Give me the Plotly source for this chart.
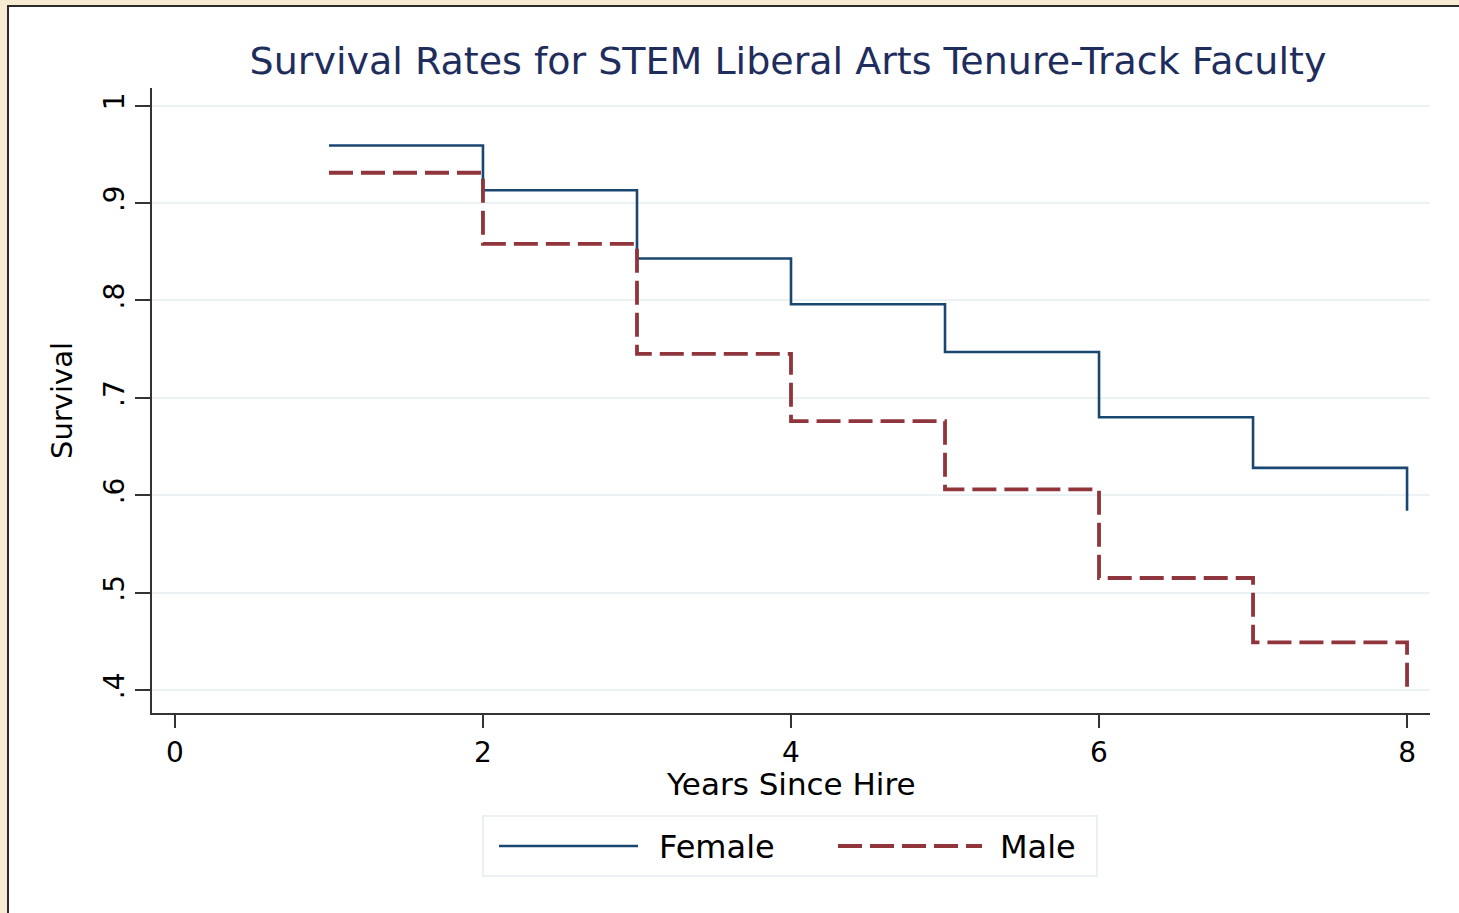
import plotly.graph_objects as go

# Kaplan-Meier style survival estimates by year since hire
years = [1, 2, 3, 4, 5, 6, 7, 8]
female_surv = [0.959, 0.913, 0.843, 0.796, 0.747, 0.680, 0.628, 0.584]
male_surv = [0.931, 0.858, 0.745, 0.676, 0.606, 0.515, 0.449, 0.403]
series_names = ["Female", "Male"]

x_ticks = [0, 2, 4, 6, 8]
y_ticks = [0.4, 0.5, 0.6, 0.7, 0.8, 0.9, 1.0]
y_ticktext = [".4", ".5", ".6", ".7", ".8", ".9", "1"]

NAVY = "#1a476f"
MAROON = "#90353b"
FONT = "DejaVu Sans"

W, H = 1459, 913
L, R, T, B = 152, 29, 88, 200
PW, PH = W - L - R, H - T - B


def px(x):
    return (x - L) / PW


def py(y):
    return (H - B - y) / PH


fig = go.Figure()
fig.add_trace(go.Scatter(x=years, y=female_surv, mode="lines", line_shape="hv",
                         line=dict(color=NAVY, width=2.6), name=series_names[0],
                         showlegend=False))
fig.add_trace(go.Scatter(x=years, y=male_surv, mode="lines", line_shape="hv",
                         line=dict(color=MAROON, width=3.8, dash="24px,8px"),
                         name=series_names[1], showlegend=False))

shapes = [
    # white chart panel inside the cream frame
    dict(type="rect", xref="paper", yref="paper", layer="below",
         x0=px(8), x1=px(W + 20), y0=py(H + 20), y1=py(6),
         fillcolor="white", line=dict(color="#2b2b2b", width=2)),
    # legend box
    dict(type="rect", xref="paper", yref="paper",
         x0=px(483), x1=px(1097), y0=py(876), y1=py(816),
         fillcolor="white", line=dict(color="#e4ecef", width=1.5)),
    dict(type="line", xref="paper", yref="paper",
         x0=px(499), x1=px(638), y0=py(846), y1=py(846),
         line=dict(color=NAVY, width=2.6)),
    dict(type="line", xref="paper", yref="paper",
         x0=px(838), x1=px(982), y0=py(846), y1=py(846),
         line=dict(color=MAROON, width=3.8, dash="24px,8px")),
]

annotations = [
    # x-axis title
    dict(text="Years Since Hire", xref="paper", yref="paper", x=px(791), y=py(784),
         xanchor="center", yanchor="middle", showarrow=False,
         font=dict(family=FONT, size=31, color="black")),
    # legend labels
    dict(text=series_names[0], xref="paper", yref="paper", x=px(657), y=py(847),
         xanchor="left", yanchor="middle", showarrow=False,
         font=dict(family=FONT, size=32, color="black")),
    dict(text=series_names[1], xref="paper", yref="paper", x=px(998), y=py(847),
         xanchor="left", yanchor="middle", showarrow=False,
         font=dict(family=FONT, size=32, color="black")),
]

fig.update_layout(
    width=W, height=H,
    margin=dict(l=L, r=R, t=T, b=B),
    paper_bgcolor="#f7ebd2",
    plot_bgcolor="white",
    font=dict(family=FONT, color="black"),
    title=dict(text="Survival Rates for STEM Liberal Arts Tenure-Track Faculty",
               x=px(788), xref="paper", xanchor="center",
               y=1 - 61 / H, yref="container", yanchor="middle",
               font=dict(family=FONT, size=38, color="#1f2d5c")),
    shapes=shapes,
    annotations=annotations,
    xaxis=dict(range=[-0.149, 8.149], tickvals=x_ticks, ticks="outside",
               ticklen=13, tickwidth=2, tickcolor="#333333",
               showline=True, linecolor="#333333", linewidth=2,
               showgrid=False, zeroline=False,
               tickfont=dict(family=FONT, size=28, color="black")),
    yaxis=dict(range=[0.3764, 1.018], tickvals=y_ticks, ticktext=y_ticktext,
               tickangle=-90, ticks="outside", ticklen=15, tickwidth=2,
               tickcolor="#333333", showline=True, linecolor="#333333",
               linewidth=2, showgrid=True, gridcolor="#eaf2f3", gridwidth=2,
               zeroline=False,
               tickfont=dict(family=FONT, size=28, color="black"),
               title=dict(text="Survival", standoff=17,
                          font=dict(family=FONT, size=29, color="black"))),
)

fig.write_html("out.html")
